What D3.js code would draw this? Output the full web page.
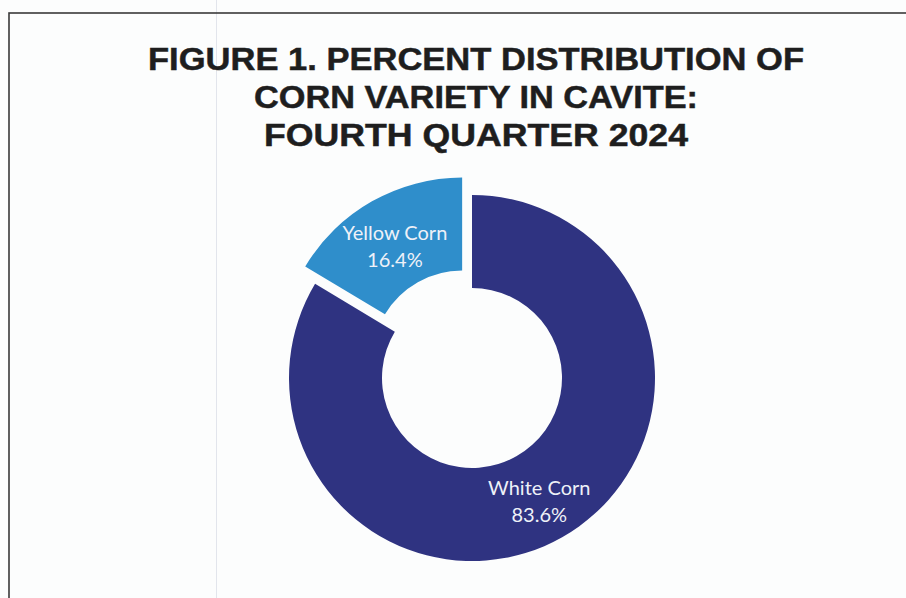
<!DOCTYPE html>
<html>
<head>
<meta charset="utf-8">
<script src="https://cdn.jsdelivr.net/npm/d3@7"></script>
<style>
  html, body { margin: 0; padding: 0; background: #fcfdfd; }
  svg { display: block; }
</style>
</head>
<body>
<svg id="chart" width="906" height="598"></svg>
<script>
// Corn variety shares, Cavite, Q4 2024
const categories = ["White Corn", "Yellow Corn"];
const shares = [83.6, 16.4];
const colors = ["#2f3381", "#2f8ecb"];
const exploded = [false, true];
const titleLines = [
  "FIGURE 1. PERCENT DISTRIBUTION OF",
  "CORN VARIETY IN CAVITE:",
  "FOURTH QUARTER 2024"
];

const W = 906, H = 598;
const svg = d3.select("#chart");

// page background and chart frame (frame runs off the right and bottom edges)
svg.append("rect").attr("width", W).attr("height", H).attr("fill", "#fcfdfd");
svg.append("line")
  .attr("x1", 216.5).attr("x2", 216.5).attr("y1", 0).attr("y2", H)
  .attr("stroke", "#e2e5ec").attr("stroke-width", 1);
svg.append("rect")
  .attr("x", 9).attr("y", 13).attr("width", 1000).attr("height", 1000)
  .attr("fill", "none").attr("stroke", "#3a3a3a").attr("stroke-width", 1.6);

// title
const titleWidths = [656, 444, 424];
const titleBase = [70, 108, 146];
svg.append("g").selectAll("text")
  .data(titleLines)
  .join("text")
  .attr("x", 476)
  .attr("y", (d, i) => titleBase[i])
  .attr("text-anchor", "middle")
  .attr("font-family", "'Liberation Sans', Arial, sans-serif")
  .attr("font-weight", "bold")
  .attr("font-size", 31.5)
  .attr("fill", "#1e1e1e")
  .attr("stroke", "#1e1e1e")
  .attr("stroke-width", 0.5)
  .attr("textLength", (d, i) => titleWidths[i])
  .attr("lengthAdjust", "spacingAndGlyphs")
  .text(d => d);

// donut
const cx = 472, cy = 378;
const outerR = 183, innerR = 90, explodeBy = 20;

const data = categories.map((c, i) => ({ name: c, value: shares[i], color: colors[i], out: exploded[i] }));
const pie = d3.pie().value(d => d.value).sort(null).startAngle(0).endAngle(2 * Math.PI);
const arc = d3.arc().innerRadius(innerR).outerRadius(outerR);
const arcs = pie(data);

const offset = a => {
  if (!a.data.out) return [0, 0];
  const mid = (a.startAngle + a.endAngle) / 2;
  return [Math.sin(mid) * explodeBy, -Math.cos(mid) * explodeBy];
};

const g = svg.append("g").attr("transform", `translate(${cx},${cy})`);
const slice = g.selectAll("g.slice")
  .data(arcs)
  .join("g")
  .attr("class", "slice")
  .attr("transform", d => `translate(${offset(d)})`);

slice.append("path")
  .attr("d", arc)
  .attr("fill", d => d.data.color);

const label = slice.append("text")
  .attr("transform", d => `translate(${arc.centroid(d)})`)
  .attr("text-anchor", "middle")
  .attr("font-family", "Lato, 'Open Sans', sans-serif")
  .attr("font-size", 20)
  .attr("fill", "#eef1f8");
label.append("tspan").attr("x", 0).attr("dy", "-0.1em").text(d => d.data.name);
label.append("tspan").attr("x", 0).attr("dy", 27).text(d => d.data.value.toFixed(1) + "%");
</script>
</body>
</html>
